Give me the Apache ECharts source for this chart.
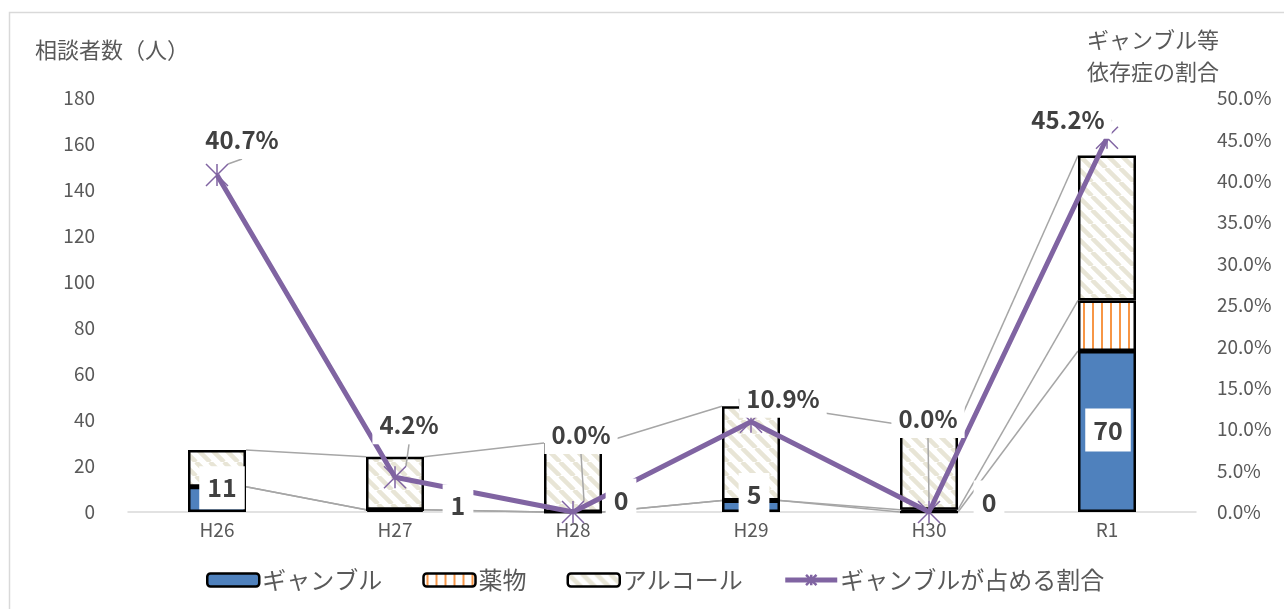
<!DOCTYPE html>
<html>
<head>
<meta charset="utf-8">
<script src="https://cdn.jsdelivr.net/npm/echarts@6/dist/echarts.min.js"></script>
<style>
  html, body { margin: 0; padding: 0; background: #fff; }
  #chart { width: 1284px; height: 609px; }
</style>
</head>
<body>
<div id="chart"></div>
<script>
// Fiscal years and consultation counts by dependency type
const years = ['H26', 'H27', 'H28', 'H29', 'H30', 'R1'];
const gambling = [11, 1, 0, 5, 0, 70];
const drugs = [0, 0, 0, 0, 1, 22];
const alcohol = [16, 23, 30, 41, 37, 63];
// Share of gambling-related consultations (%)
const gamblingShare = [40.7, 4.2, 0.0, 10.9, 0.0, 45.2];
// Axis tick settings
const countAxisTicks = { min: 0, max: 180, interval: 20 };
const shareAxisTicks = { min: 0, max: 50, interval: 5 };

const seriesNames = ['ギャンブル', '薬物', 'アルコール', 'ギャンブルが占める割合'];

// Label placement (pixel shifts from each point)
const shareLabelShift = [[25, -35], [14, -52], [8, -77], [32, -23], [-1, -93], [-39, -18]];
const gamblingLabelShift = [[5, 1], [63, -4], [48, -12], [3, -6], [60, -10], [1, 79]];

const BAR_W = 58;
const TXT = "'Noto Sans CJK JP', 'Noto Sans', sans-serif";
const NUM = "'Noto Sans CJK JP', 'Noto Sans', sans-serif";
const GREY_TXT = '#595959';
const SHARE_COLOR = '#8064a2';

function tile(w, h, draw) {
  const c = document.createElement('canvas');
  c.width = w; c.height = h;
  const ctx = c.getContext('2d');
  ctx.fillStyle = '#ffffff';
  ctx.fillRect(0, 0, w, h);
  draw(ctx, w, h);
  return c;
}
// light diagonal hatch for alcohol
const alcoholTile = tile(14, 14, (ctx, w) => {
  ctx.strokeStyle = '#e8e5d6';
  ctx.lineWidth = 4.5;
  for (let k = -1; k <= 1; k++) {
    ctx.beginPath();
    ctx.moveTo(k * w, 0);
    ctx.lineTo(k * w + w, w);
    ctx.stroke();
  }
});
// vertical orange stripes for drugs
const drugTile = tile(9, 4, (ctx) => {
  ctx.fillStyle = '#f79646';
  ctx.fillRect(3, 0, 2, 4);
});

// cumulative tops of each stacked segment, used for connecting series lines
const stackTops = years.map((_, i) => [
  gambling[i],
  gambling[i] + drugs[i],
  gambling[i] + drugs[i] + alcohol[i]
]);

const barStyle = (color) => ({ color: color, borderColor: '#000', borderWidth: 2.5 });

const chart = echarts.init(document.getElementById('chart'));
chart.setOption({
  animation: false,
  backgroundColor: '#fff',
  graphic: [{
    type: 'rect', left: 7, top: 10, silent: true, z: -10,
    shape: { width: 1300, height: 640 },
    style: { fill: 'none', stroke: '#d9d9d9', lineWidth: 1.5 }
  }],
  grid: { left: 128, right: 88, top: 98, bottom: 97, containLabel: false, outerBoundsMode: 'none' },
  legend: {
    data: seriesNames,
    left: 201, top: 563,
    itemWidth: 52, itemHeight: 13, itemGap: 40,
    itemStyle: { borderWidth: 2.5 },
    lineStyle: { width: 5 },
    textStyle: { fontFamily: TXT, fontSize: 24, color: GREY_TXT, padding: [0, 0, 0, -2] }
  },
  xAxis: {
    type: 'category',
    data: years,
    axisLine: { lineStyle: { color: '#d9d9d9', width: 1.5 } },
    axisTick: { show: false },
    axisLabel: { fontFamily: TXT, fontSize: 19, color: GREY_TXT, margin: 8 }
  },
  yAxis: [{
    type: 'value',
    min: countAxisTicks.min, max: countAxisTicks.max, interval: countAxisTicks.interval,
    name: '相談者数（人）',
    nameLocation: 'end', nameGap: 37,
    nameTextStyle: { fontFamily: TXT, fontSize: 22, color: GREY_TXT, align: 'center', padding: [0, 32, 0, 0] },
    axisLine: { show: false }, axisTick: { show: false }, splitLine: { show: false },
    axisLabel: { fontFamily: TXT, fontSize: 19, color: GREY_TXT, margin: 33 }
  }, {
    type: 'value',
    position: 'right',
    min: shareAxisTicks.min, max: shareAxisTicks.max, interval: shareAxisTicks.interval,
    name: 'ギャンブル等\n依存症の割合',
    nameLocation: 'end', nameGap: 10,
    nameTextStyle: { fontFamily: TXT, fontSize: 22, lineHeight: 32, color: GREY_TXT, align: 'center', padding: [0, 86, 0, 0] },
    axisLine: { show: false }, axisTick: { show: false }, splitLine: { show: false },
    axisLabel: { fontFamily: TXT, fontSize: 19, color: GREY_TXT, margin: 21, formatter: (v) => v.toFixed(1) + '%' }
  }],
  series: [
    {
      name: seriesNames[0], type: 'bar', stack: 'count', barWidth: BAR_W, z: 2,
      itemStyle: barStyle('#4f81bd'),
      data: gambling
    },
    {
      name: seriesNames[1], type: 'bar', stack: 'count', barWidth: BAR_W, z: 2,
      itemStyle: barStyle({ image: drugTile, repeat: 'repeat' }),
      data: drugs
    },
    {
      name: seriesNames[2], type: 'bar', stack: 'count', barWidth: BAR_W, z: 2,
      itemStyle: barStyle({ image: alcoholTile, repeat: 'repeat' }),
      data: alcohol
    },
    {
      // series lines joining the tops of matching segments in neighbouring bars
      type: 'custom', z: 1, silent: true,
      data: years.slice(0, -1).map((_, i) => [i, 0]),
      renderItem: (params, api) => {
        const i = params.dataIndex;
        const children = [0, 1, 2].map((k) => {
          const a = api.coord([i, stackTops[i][k]]);
          const b = api.coord([i + 1, stackTops[i + 1][k]]);
          return {
            type: 'line',
            shape: { x1: a[0] + BAR_W / 2, y1: a[1], x2: b[0] - BAR_W / 2, y2: b[1] },
            style: { stroke: '#a6a6a6', lineWidth: 1.5 }
          };
        });
        return { type: 'group', children: children };
      }
    },
    {
      name: seriesNames[3], type: 'line', yAxisIndex: 1, z: 3,
      symbol: 'path://M0,0L10,10M10,0L0,10M5,0L5,10',
      symbolSize: 22,
      lineStyle: { color: SHARE_COLOR, width: 5 },
      itemStyle: { color: SHARE_COLOR, borderColor: SHARE_COLOR, borderWidth: 1.5 },
      label: {
        show: true, position: 'inside',
        formatter: (p) => p.value.toFixed(1) + '%',
        fontFamily: NUM, fontSize: 24, fontWeight: 'bold', color: '#404040',
        lineHeight: 26,
        backgroundColor: '#fff', padding: [6, 7, 6, 7]
      },
      labelLine: { show: true, lineStyle: { color: '#a6a6a6', width: 1.5 } },
      labelLayout: (p) => ({ dx: shareLabelShift[p.dataIndex][0], dy: shareLabelShift[p.dataIndex][1] }),
      data: gamblingShare
    },
    {
      // value labels for the gambling segment, kept above the share line
      type: 'scatter', z: 10, silent: true,
      symbolSize: 1,
      itemStyle: { color: 'rgba(0,0,0,0)', opacity: 1 },
      label: {
        show: true, position: 'inside',
        formatter: (p) => String(p.value),
        fontFamily: NUM, fontSize: 25, fontWeight: 'bold', color: '#404040',
        lineHeight: 27,
        backgroundColor: '#fff', padding: [8, 8, 8, 8]
      },
      data: gambling.map((v, i) => ({
        value: v,
        label: { offset: gamblingLabelShift[i] }
      }))
    }
  ]
});
</script>
</body>
</html>
